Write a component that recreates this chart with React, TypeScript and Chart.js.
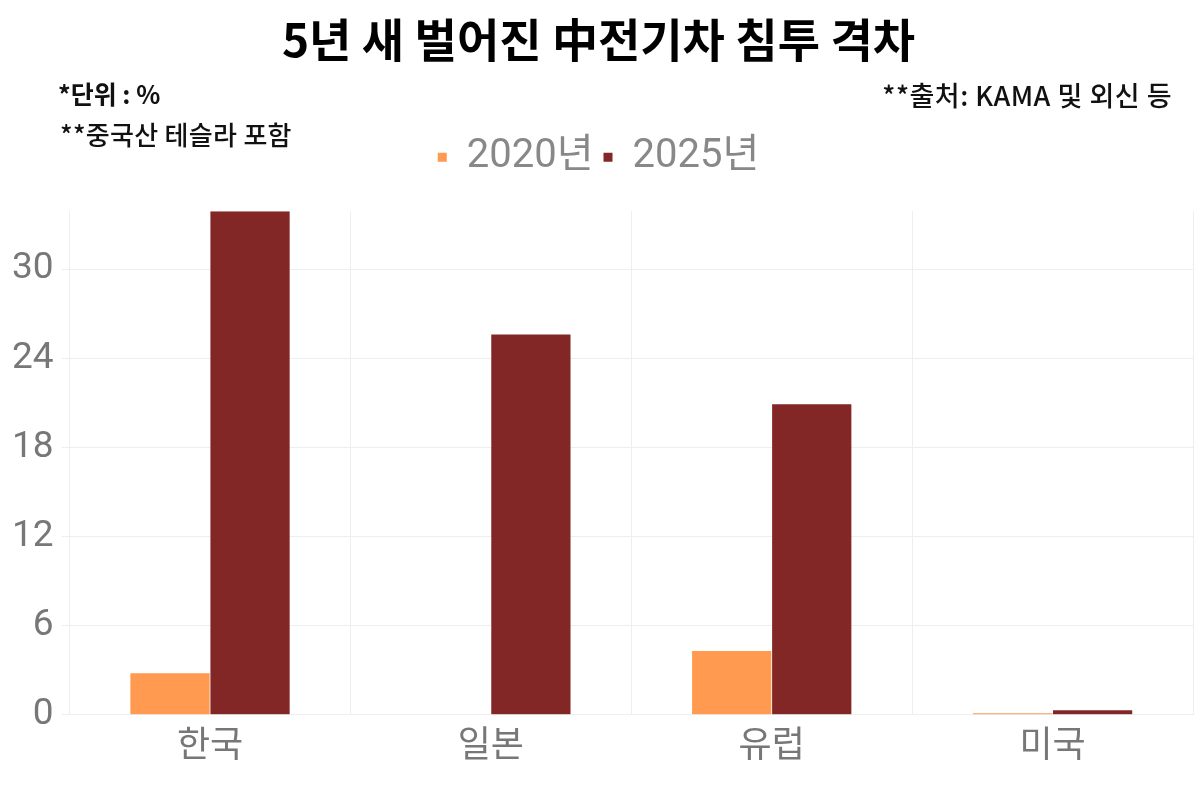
import React, { useEffect, useRef } from 'react';
import { Chart, registerables } from 'chart.js';

Chart.register(...registerables);

const regions = ['한국', '일본', '유럽', '미국'];
const share2020 = [2.8, 0, 4.3, 0.1];
const share2025 = [33.9, 25.6, 20.9, 0.3];
const yTicks = [0, 6, 12, 18, 24, 30];

const title = '5년 새 벌어진 中전기차 침투 격차';
const unitNote = '*단위 : %';
const teslaNote = '**중국산 테슬라 포함';
const sourceNote = '**출처: KAMA 및 외신 등';

const FONT = "Roboto, 'Noto Sans CJK KR', sans-serif";

// push the plot area down a bit below the legend
const legendGap = {
  id: 'legendGap',
  beforeInit(chart: any) {
    const fit = chart.legend.fit;
    chart.legend.fit = function () {
      fit.bind(chart.legend)();
      this.height += 24;
    };
  },
};

export default function App() {
  const canvasRef = useRef<HTMLCanvasElement>(null);

  useEffect(() => {
    if (!canvasRef.current) return;
    const chart = new Chart(canvasRef.current, {
      type: 'bar',
      data: {
        labels: regions,
        datasets: [
          {
            label: '2020년',
            data: share2020,
            backgroundColor: '#ff9a50',
            barPercentage: 0.99,
            categoryPercentage: 0.57,
          },
          {
            label: '2025년',
            data: share2025,
            backgroundColor: '#822626',
            barPercentage: 0.99,
            categoryPercentage: 0.57,
          },
        ],
      },
      options: {
        animation: false,
        responsive: true,
        maintainAspectRatio: false,
        layout: { padding: { top: 8, right: 7, left: 4, bottom: 18 } },
        plugins: {
          title: {
            display: true,
            text: title,
            color: '#000',
            font: { family: "'Noto Sans CJK KR', sans-serif", size: 46, weight: 600 },
            padding: { top: 4, bottom: 60 },
          },
          legend: {
            labels: {
              color: '#888',
              font: { family: FONT, size: 40 },
              boxWidth: 9,
              boxHeight: 9,
              padding: 10,
            },
          },
          tooltip: { enabled: false },
        },
        scales: {
          x: {
            grid: { color: '#eeeeee', offset: true, drawTicks: false },
            border: { display: false },
            ticks: { color: '#777', font: { family: FONT, size: 36 }, padding: 12 },
          },
          y: {
            min: 0,
            max: 33.9,
            grid: { color: '#eeeeee' },
            border: { display: false },
            afterBuildTicks: (axis) => {
              axis.ticks = yTicks.map((v) => ({ value: v }));
            },
            ticks: { color: '#777', font: { family: FONT, size: 37 }, padding: 8 },
          },
        },
      },
      plugins: [legendGap],
    });
    return () => chart.destroy();
  }, []);

  const noteStyle: React.CSSProperties = {
    position: 'absolute',
    fontFamily: "'Noto Sans CJK KR', sans-serif",
    fontSize: 25,
    color: '#111',
    lineHeight: 1,
  };

  return (
    <div style={{ position: 'absolute', left: 0, top: 0, width: 1200, height: 800, background: '#fff' }}>
      <canvas ref={canvasRef} />
      <div style={{ ...noteStyle, left: 58, top: 81, fontWeight: 'bold' }}>{unitNote}</div>
      <div style={{ ...noteStyle, left: 60, top: 121, fontWeight: 500, fontSize: 26, letterSpacing: 0.3 }}>
        {teslaNote}
      </div>
      <div style={{ ...noteStyle, right: 28, top: 81, fontWeight: 500, fontSize: 27, letterSpacing: 0.5 }}>
        {sourceNote}
      </div>
    </div>
  );
}
